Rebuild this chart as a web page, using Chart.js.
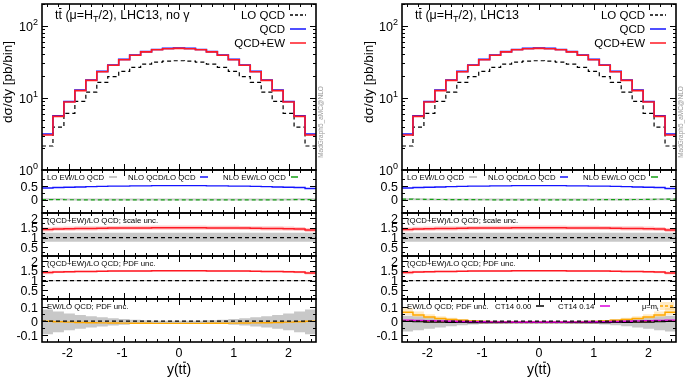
<!DOCTYPE html>
<html>
<head>
<meta charset="utf-8">
<script src="https://cdn.jsdelivr.net/npm/chart.js@4.4.1/dist/chart.umd.min.js"></script>
<style>
  body { margin: 0; background: #fff; width: 685px; height: 378px; overflow: hidden; position: relative; }
  canvas { position: absolute; }
</style>
</head>
<body>
<script>
// bin edges in y(tt)
const binEdges = [-2.5,-2.3,-2.1,-1.9,-1.7,-1.5,-1.3,-1.1,-0.9,-0.7,-0.5,-0.3,-0.1,0.1,0.3,0.5,0.7,0.9,1.1,1.3,1.5,1.7,1.9,2.1,2.3,2.5];

// main panel, pb/bin
const loQCD  = [2.15,3.94,6.1,8.96,12.0,16.4,19.7,23.3,26.5,29.3,31.3,32.3,32.7,32.3,31.3,29.3,26.5,23.3,19.7,16.4,12.0,8.96,6.1,3.94,2.15];
const nloQCD = [3.15,5.62,8.9,12.8,17.7,23.3,28.6,34.2,39.3,43.8,46.9,48.5,49.0,48.5,46.9,43.8,39.3,34.2,28.6,23.3,17.7,12.8,8.9,5.62,3.15];
const qcdEW  = [3.06,5.53,8.77,12.6,17.5,23.0,28.3,33.8,38.9,43.4,46.4,48.0,48.5,48.0,46.4,43.4,38.9,33.8,28.3,23.0,17.5,12.6,8.77,5.53,3.06];

// ratio panel 1
const loEwRatio   = [0.01,0.008,0.006,0.005,0.004,0.004,0.003,0.003,0.003,0.003,0.003,0.003,0.003,0.003,0.003,0.003,0.003,0.003,0.003,0.004,0.004,0.005,0.006,0.008,0.01];
const nloQcdRatio = [0.43,0.45,0.46,0.47,0.48,0.49,0.5,0.5,0.51,0.51,0.52,0.52,0.52,0.52,0.52,0.51,0.51,0.5,0.5,0.49,0.48,0.47,0.46,0.45,0.41];
const nloEwRatio  = [-0.003,-0.005,-0.007,-0.008,-0.009,-0.01,-0.01,-0.011,-0.011,-0.011,-0.012,-0.012,-0.012,-0.012,-0.012,-0.011,-0.011,-0.011,-0.01,-0.01,-0.009,-0.008,-0.007,-0.005,-0.003];
const nloEwRatioR = [0.02,0.012,0.006,0.002,0.0,-0.003,-0.005,-0.007,-0.008,-0.009,-0.01,-0.01,-0.01,-0.01,-0.01,-0.009,-0.008,-0.007,-0.005,-0.003,0.0,0.002,0.006,0.012,0.02];

// ratio panels 2 and 3, (QCD+EW)/LO QCD
const loRef        = [1,1,1,1,1,1,1,1,1,1,1,1,1,1,1,1,1,1,1,1,1,1,1,1,1];
const ewRatioCentr = [1.42,1.45,1.46,1.47,1.47,1.48,1.49,1.5,1.5,1.5,1.51,1.51,1.51,1.51,1.51,1.5,1.5,1.5,1.49,1.48,1.47,1.47,1.46,1.44,1.39];
const scaleUp      = [1.53,1.56,1.57,1.58,1.58,1.59,1.6,1.61,1.61,1.61,1.62,1.62,1.62,1.62,1.62,1.61,1.61,1.61,1.6,1.59,1.58,1.58,1.57,1.55,1.5];
const scaleDown    = [1.32,1.35,1.36,1.37,1.37,1.38,1.39,1.4,1.4,1.4,1.41,1.41,1.41,1.41,1.41,1.4,1.4,1.4,1.39,1.38,1.37,1.37,1.36,1.34,1.29];
const loScaleUp    = [1.25,1.25,1.25,1.25,1.25,1.25,1.25,1.25,1.25,1.25,1.25,1.25,1.25,1.25,1.25,1.25,1.25,1.25,1.25,1.25,1.25,1.25,1.25,1.25,1.25];
const loScaleDown  = [0.78,0.78,0.78,0.78,0.78,0.78,0.78,0.78,0.78,0.78,0.78,0.78,0.78,0.78,0.78,0.78,0.78,0.78,0.78,0.78,0.78,0.78,0.78,0.78,0.78];
const pdfUp        = [1.51,1.51,1.51,1.51,1.51,1.51,1.52,1.53,1.53,1.53,1.54,1.54,1.54,1.54,1.54,1.53,1.53,1.53,1.52,1.51,1.51,1.51,1.51,1.5,1.47];
const pdfDown      = [1.33,1.39,1.41,1.43,1.43,1.45,1.46,1.47,1.47,1.47,1.48,1.48,1.48,1.48,1.48,1.47,1.47,1.47,1.46,1.45,1.43,1.43,1.41,1.38,1.31];
const loPdfUp      = [1.03,1.03,1.03,1.03,1.03,1.03,1.03,1.03,1.03,1.03,1.03,1.03,1.03,1.03,1.03,1.03,1.03,1.03,1.03,1.03,1.03,1.03,1.03,1.03,1.03];
const loPdfDown    = [0.97,0.97,0.97,0.97,0.97,0.97,0.97,0.97,0.97,0.97,0.97,0.97,0.97,0.97,0.97,0.97,0.97,0.97,0.97,0.97,0.97,0.97,0.97,0.97,0.97];

// ratio panel 4, EW/LO QCD
const zeroRef    = [0,0,0,0,0,0,0,0,0,0,0,0,0,0,0,0,0,0,0,0,0,0,0,0,0];
const ewLoRatio  = [0.0,-0.004,-0.007,-0.009,-0.011,-0.012,-0.013,-0.014,-0.015,-0.015,-0.016,-0.016,-0.016,-0.016,-0.016,-0.015,-0.015,-0.014,-0.013,-0.012,-0.011,-0.009,-0.007,-0.004,0.0];
const ewPdfUp    = [0.085,0.07,0.055,0.045,0.036,0.028,0.021,0.015,0.01,0.006,0.004,0.003,0.003,0.003,0.004,0.006,0.01,0.015,0.021,0.028,0.036,0.045,0.055,0.07,0.085];
const ewPdfDown  = [-0.095,-0.08,-0.065,-0.055,-0.046,-0.038,-0.031,-0.025,-0.02,-0.017,-0.016,-0.015,-0.015,-0.015,-0.016,-0.017,-0.02,-0.025,-0.031,-0.038,-0.046,-0.055,-0.065,-0.08,-0.095];
// right-hand variant (with photon-initiated channels)
const ewPhoton   = [0.065,0.045,0.03,0.02,0.012,0.006,0.002,-0.002,-0.004,-0.005,-0.006,-0.006,-0.006,-0.006,-0.006,-0.005,-0.004,-0.002,0.002,0.006,0.012,0.02,0.03,0.045,0.065];
const ewPhotonUp = [0.095,0.07,0.05,0.035,0.024,0.015,0.009,0.004,0.0,-0.002,-0.003,-0.003,-0.003,-0.003,-0.003,-0.002,0.0,0.004,0.009,0.015,0.024,0.035,0.05,0.07,0.095];
const ewPhotonDn = [0.045,0.03,0.018,0.01,0.004,0.0,-0.004,-0.007,-0.008,-0.009,-0.009,-0.009,-0.009,-0.009,-0.009,-0.009,-0.008,-0.007,-0.004,0.0,0.004,0.01,0.018,0.03,0.045];
const ewMuMt     = [0.004,0.0,-0.003,-0.005,-0.007,-0.008,-0.009,-0.01,-0.01,-0.011,-0.011,-0.011,-0.011,-0.011,-0.011,-0.011,-0.01,-0.01,-0.009,-0.008,-0.007,-0.005,-0.003,0.0,0.004];
const ct14Zero   = [-0.002,-0.004,-0.006,-0.007,-0.008,-0.009,-0.01,-0.01,-0.01,-0.01,-0.011,-0.011,-0.011,-0.011,-0.011,-0.01,-0.01,-0.01,-0.01,-0.009,-0.008,-0.007,-0.006,-0.004,-0.002];
const ct14Ew     = [0.008,0.006,0.004,0.002,0.0,-0.002,-0.003,-0.004,-0.005,-0.005,-0.006,-0.006,-0.006,-0.006,-0.006,-0.005,-0.005,-0.004,-0.003,-0.002,0.0,0.002,0.004,0.006,0.008];
const ewPdfUpR   = [0.04,0.035,0.028,0.022,0.017,0.012,0.008,0.005,0.003,0.002,0.001,0.001,0.001,0.001,0.001,0.002,0.003,0.005,0.008,0.012,0.017,0.022,0.028,0.035,0.04];
const ewPdfDownR = [-0.075,-0.065,-0.055,-0.045,-0.037,-0.03,-0.024,-0.019,-0.016,-0.014,-0.013,-0.012,-0.012,-0.012,-0.013,-0.014,-0.016,-0.019,-0.024,-0.03,-0.037,-0.045,-0.055,-0.065,-0.075];

// axis ticks
const xMajorTicks = [-2, -1, 0, 1, 2];
const xMinorTicks = [-2.4,-2.2,-1.8,-1.6,-1.4,-1.2,-0.8,-0.6,-0.4,-0.2,0.2,0.4,0.6,0.8,1.2,1.4,1.6,1.8,2.2,2.4];
const logMajorTicks = [1, 10, 100];
const logMinorTicks = [2,3,4,5,6,7,8,9,20,30,40,50,60,70,80,90,200];
const p1MajorTicks = [0, 0.5];
const p1MinorTicks = [-0.25, 0.25, 0.75];
const p23MajorTicks = [0.5, 1, 1.5, 2];
const p23MinorTicks = [0.25, 0.75, 1.25, 1.75];
const p4MajorTicks = [-0.1, 0, 0.1];
const p4MinorTicks = [-0.05, 0.05];

const FONT = '"Liberation Sans", Arial, sans-serif';
const RED = 'rgb(255,25,35)';
const BLUE = 'rgb(20,20,255)';
const ORANGE = 'rgb(255,168,0)';
const LEG = 7.8;

function steps(vals) {
    const pts = vals.map((v, i) => ({ x: binEdges[i], y: v }));
    pts.push({ x: binEdges[binEdges.length - 1], y: vals[vals.length - 1] });
    return pts;
}

// a histogram outline: horizontal across each bin, then the jump
function line(vals, color, width, dash) {
    return { data: steps(vals), borderColor: color, borderWidth: width, borderDash: dash || [],
             stepped: 'before', pointRadius: 0, fill: false };
}

function band(hi, lo, color) {
    return [
        { data: steps(hi), borderColor: 'rgba(0,0,0,0)', borderWidth: 0, backgroundColor: color, stepped: 'before', pointRadius: 0, fill: '+1' },
        { data: steps(lo), borderColor: 'rgba(0,0,0,0)', borderWidth: 0, stepped: 'before', pointRadius: 0, fill: false }
    ];
}

// text with sub/superscripts and overbars
function richText(ctx, parts, x, y, size, align, color) {
    ctx.fillStyle = color || '#000';
    ctx.textBaseline = 'alphabetic';
    ctx.textAlign = 'left';
    const fs = p => (p.sub || p.sup) ? Math.round(size * 0.7) : size;
    const widths = parts.map(p => { ctx.font = fs(p) + 'px ' + FONT; return ctx.measureText(p.t).width; });
    const total = widths.reduce((a, b) => a + b, 0);
    let cx = align === 'right' ? x - total : align === 'center' ? x - total / 2 : x;
    parts.forEach((p, i) => {
        ctx.font = fs(p) + 'px ' + FONT;
        const dy = p.sub ? size * 0.25 : p.sup ? -size * 0.45 : 0;
        ctx.fillText(p.t, cx, y + dy);
        if (p.bar) {
            const lw = ctx.measureText(p.t.slice(-1)).width;
            ctx.fillRect(cx + widths[i] - lw + 0.5, y - size * 0.88, lw - 1, 1);
        }
        cx += widths[i];
    });
}

function sample(ctx, x1, x2, y, color, width, dash) {
    ctx.save();
    ctx.strokeStyle = color; ctx.lineWidth = width; ctx.setLineDash(dash || []);
    ctx.beginPath(); ctx.moveTo(x1, y); ctx.lineTo(x2, y); ctx.stroke();
    ctx.restore();
}

const panelDeco = {
    id: 'panelDeco',
    afterDraw(chart, args, o) {
        const { ctx, chartArea: a, scales } = chart;
        const xs = scales.x, ys = scales.y;
        ctx.save();
        ctx.strokeStyle = '#000';
        ctx.lineWidth = 1;
        ctx.beginPath();
        const yTick = (v, len) => {
            const p = Math.round(ys.getPixelForValue(v)) + 0.5;
            if (p < a.top || p > a.bottom) return;
            ctx.moveTo(a.left, p); ctx.lineTo(a.left + len, p);
            ctx.moveTo(a.right, p); ctx.lineTo(a.right - len, p);
        };
        const xTick = (v, len) => {
            const p = Math.round(xs.getPixelForValue(v)) + 0.5;
            ctx.moveTo(p, a.bottom); ctx.lineTo(p, a.bottom - len);
            ctx.moveTo(p, a.top); ctx.lineTo(p, a.top + len);
        };
        o.yMajor.forEach(v => yTick(v, 6));
        o.yMinor.forEach(v => yTick(v, 3));
        xMajorTicks.forEach(v => xTick(v, 6));
        xMinorTicks.forEach(v => xTick(v, 3));
        ctx.stroke();
        ctx.lineWidth = 1.6;
        ctx.strokeRect(a.left, a.top, a.right - a.left, a.bottom - a.top);

        // y tick labels
        o.yMajor.forEach((v, i) => {
            const p = ys.getPixelForValue(v);
            const lab = o.yLabels[i];
            if (typeof lab === 'string') {
                richText(ctx, [{ t: lab }], a.left - 4, p + 4.5, 12.5, 'right');
            } else {
                richText(ctx, lab, a.left - 4, p + 5, 12.5, 'right');
            }
        });

        // x tick labels and axis title on the lowest panel
        if (o.xLabels) {
            xMajorTicks.forEach(v => {
                const p = xs.getPixelForValue(v);
                const s = v < 0 ? '-' + Math.abs(v) : String(v);
                ctx.font = '12.5px ' + FONT;
                const off = v < 0 ? ctx.measureText('-').width / 2 : 0;
                richText(ctx, [{ t: s }], p - off, a.bottom + 15, 12.5, 'center');
            });
            richText(ctx, [{ t: 'y(t' }, { t: 't', bar: 1 }, { t: ')' }], (a.left + a.right) / 2, a.bottom + 32, 14, 'center');
        }
        if (o.draw) o.draw(ctx, a);
        ctx.restore();
    }
};
Chart.register(panelDeco);

function makePanel(side, top, height, extraBottom, yScale, datasets, deco) {
    const padTop = 14, padBottom = 14 + extraBottom;
    const c = document.createElement('canvas');
    c.width = side.canvasW;
    c.height = height + padTop + padBottom;
    c.style.left = side.ox + 'px';
    c.style.top = (top - padTop) + 'px';
    document.body.appendChild(c);
    return new Chart(c, {
        type: 'line',
        data: { datasets: datasets },
        options: {
            responsive: false,
            animation: false,
            devicePixelRatio: 1,
            layout: { padding: { left: side.plotLeft - side.ox, right: side.canvasW - (side.plotRight - side.ox), top: padTop, bottom: padBottom } },
            scales: {
                x: { type: 'linear', min: -2.5, max: 2.5, display: false },
                y: Object.assign({ display: false }, yScale)
            },
            plugins: { legend: { display: false }, tooltip: { enabled: false }, panelDeco: deco }
        }
    });
}

const sides = [
    { ox: 0, canvasW: 355, plotLeft: 42, plotRight: 316, title: ', LHC13, no γ', right: false },
    { ox: 355, canvasW: 330, plotLeft: 402, plotRight: 676, title: ', LHC13', right: true }
];

const logLabels = [
    [{ t: '10' }, { t: '0', sup: 1 }],
    [{ t: '10' }, { t: '1', sup: 1 }],
    [{ t: '10' }, { t: '2', sup: 1 }]
];

sides.forEach(side => {
    // main distribution
    makePanel(side, 4, 166, 0, { type: 'logarithmic', min: 1, max: 200 }, [
        line(qcdEW, RED, 1.6),
        line(nloQCD, BLUE, 1.6),
        line(loQCD, '#000', 1.2, [4, 3])
    ], {
        yMajor: logMajorTicks, yMinor: logMinorTicks, yLabels: logLabels,
        draw(ctx, a) {
            richText(ctx, [{ t: 't' }, { t: 't', bar: 1 }, { t: ' (μ=H' }, { t: 'T', sub: 1 }, { t: '/2)' + side.title }], a.left + 13, a.top + 15, 12.5, 'left');
            const rows = [['LO QCD', '#000', [3, 2]], ['QCD', BLUE, []], ['QCD+EW', RED, []]];
            rows.forEach((r, i) => {
                const y = a.top + 15 + i * 14;
                richText(ctx, [{ t: r[0] }], a.right - 31, y, 11.5, 'right');
                sample(ctx, a.right - 26, a.right - 10, y - 4, r[1], 1.5, r[2]);
            });
            // y axis title
            ctx.save();
            ctx.translate(side.right ? 18 : 12, 92);
            ctx.rotate(-Math.PI / 2);
            richText(ctx, [{ t: 'dσ/dy [pb/bin]' }], 0, 0, 13.5, 'center');
            ctx.restore();
            // generator tag
            ctx.save();
            ctx.translate(a.right + 7, 132);
            ctx.rotate(-Math.PI / 2);
            richText(ctx, [{ t: 'MadGraph5_aMC@NLO' }], 0, 0, 6.5, 'center', '#999');
            ctx.restore();
        }
    });

    // panel 1
    makePanel(side, 170, 43, 0, { min: -0.5, max: 1.1 }, [
        line(side.right ? nloEwRatioR : nloEwRatio, 'rgb(20,160,20)', 1.2, [4, 3]),
        line(nloQcdRatio, BLUE, 1.4),
        line(loEwRatio, '#c8c8c8', 2)
    ], {
        yMajor: p1MajorTicks, yMinor: p1MinorTicks, yLabels: ['0', '0.5'],
        draw(ctx, a) {
            const y = a.top + 10;
            richText(ctx, [{ t: 'LO EW/LO QCD' }], a.left + 5, y, LEG, 'left');
            sample(ctx, a.left + 67, a.left + 75, y - 3, '#c8c8c8', 2);
            richText(ctx, [{ t: 'NLO QCD/LO QCD' }], a.left + 86, y, LEG, 'left');
            sample(ctx, a.left + 158, a.left + 166, y - 3, BLUE, 1.5);
            richText(ctx, [{ t: 'NLO EW/LO QCD' }], a.left + 181, y, LEG, 'left');
            sample(ctx, a.left + 249, a.left + 256, y - 3, 'rgb(20,160,20)', 1.5);
        }
    });

    // panel 2: scale uncertainty
    makePanel(side, 213, 43, 0, { min: 0.05, max: 2.27 }, [
        line(loRef, '#000', 1.2, [4, 3]),
        line(ewRatioCentr, RED, 1.5),
        ...band(scaleUp, scaleDown, 'rgba(255,90,90,0.3)'),
        ...band(loScaleUp, loScaleDown, 'rgb(200,200,200)')
    ], {
        yMajor: p23MajorTicks, yMinor: p23MinorTicks, yLabels: ['0.5', '1', '1.5', '2'],
        draw(ctx, a) {
            richText(ctx, [{ t: '(QCD+EW)/LO QCD; scale unc.' }], a.left + 5, a.top + 10, LEG, 'left');
        }
    });

    // panel 3: PDF uncertainty
    makePanel(side, 256, 43, 0, { min: 0.05, max: 2.27 }, [
        line(loRef, '#000', 1.2, [4, 3]),
        line(ewRatioCentr, RED, 1.5),
        ...band(pdfUp, pdfDown, 'rgba(255,90,90,0.3)'),
        ...band(loPdfUp, loPdfDown, 'rgb(200,200,200)')
    ], {
        yMajor: p23MajorTicks, yMinor: p23MinorTicks, yLabels: ['0.5', '1', '1.5', '2'],
        draw(ctx, a) {
            richText(ctx, [{ t: '(QCD+EW)/LO QCD; PDF unc.' }], a.left + 5, a.top + 10, LEG, 'left');
        }
    });

    // panel 4: EW/LO QCD
    const p4sets = side.right ? [
        line(zeroRef, '#000', 1.2, [4, 3]),
        line(ct14Ew, 'rgb(220,0,220)', 1.4),
        line(ct14Zero, '#000', 1.2),
        line(ewMuMt, ORANGE, 1.3, [3, 2]),
        line(ewPhoton, ORANGE, 1.5),
        ...band(ewPhotonUp, ewPhotonDn, 'rgba(255,205,110,0.4)'),
        ...band(ewPdfUpR, ewPdfDownR, 'rgb(200,200,200)')
    ] : [
        line(zeroRef, '#000', 1.2, [4, 3]),
        line(ewLoRatio, ORANGE, 1.4),
        ...band(ewPdfUp, ewPdfDown, 'rgb(200,200,200)')
    ];
    makePanel(side, 299, 43, 24, { min: -0.15, max: 0.16 }, p4sets, {
        yMajor: p4MajorTicks, yMinor: p4MinorTicks, yLabels: ['-0.1', '0', '0.1'], xLabels: true,
        draw(ctx, a) {
            const y = a.top + 10;
            richText(ctx, [{ t: 'EW/LO QCD; PDF unc.' }], a.left + 5, y, LEG, 'left');
            if (side.right) {
                richText(ctx, [{ t: 'CT14 0.00' }], a.left + 93, y, LEG, 'left');
                sample(ctx, a.left + 134, a.left + 142, y - 3, '#000', 1.5);
                richText(ctx, [{ t: 'CT14 0.14' }], a.left + 156, y, LEG, 'left');
                sample(ctx, a.left + 198, a.left + 208, y - 3, 'rgb(220,0,220)', 1.5);
                richText(ctx, [{ t: 'μ=m' }, { t: 't', sub: 1 }], a.left + 240, y, 7.5, 'left');
                ctx.fillStyle = 'rgba(255,205,110,0.4)';
                ctx.fillRect(a.left + 258, y - 7, 14, 8);
                sample(ctx, a.left + 258, a.left + 272, y - 3, ORANGE, 1.5, [3, 2]);
            }
        }
    });
});
</script>
</body>
</html>
